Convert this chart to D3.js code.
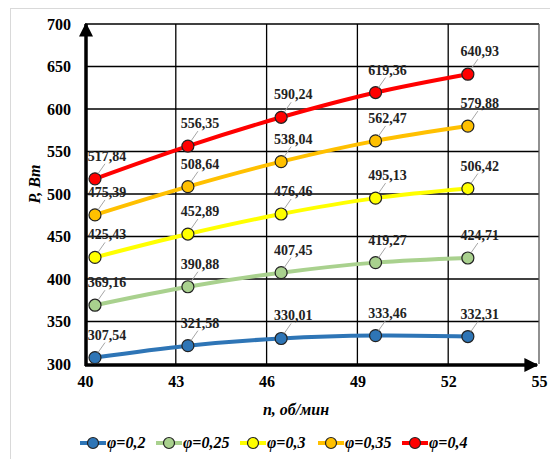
<!DOCTYPE html>
<html>
<head>
<meta charset="utf-8">
<script src="https://cdn.jsdelivr.net/npm/d3@7"></script>
<style>
  body { margin: 0; background: #fff; }
  svg text { font-family: "Liberation Serif", "DejaVu Serif", "Times New Roman", serif !important; }
</style>
</head>
<body>
<div id="chart"></div>
<script>
// data
var nValues = [40.33, 43.4, 46.48, 49.6, 52.65];
var seriesNames = ["φ=0,2", "φ=0,25", "φ=0,3", "φ=0,35", "φ=0,4"];
var p02 = [307.54, 321.58, 330.01, 333.46, 332.31];
var p025 = [369.16, 390.88, 407.45, 419.27, 424.71];
var p03 = [425.43, 452.89, 476.46, 495.13, 506.42];
var p035 = [475.39, 508.64, 538.04, 562.47, 579.88];
var p04 = [517.84, 556.35, 590.24, 619.36, 640.93];
var xTicks = [40, 43, 46, 49, 52, 55];
var yTicks = [300, 350, 400, 450, 500, 550, 600, 650, 700];

var colors = ["#2e75b6", "#a9d18e", "#ffff00", "#ffc000", "#ff0000"];
var allSeries = [p02, p025, p03, p035, p04];

var svgWidth = 550, svgHeight = 459;
var margin = { top: 24, right: 11, bottom: 95, left: 85 };
var width = svgWidth - margin.left - margin.right;
var height = svgHeight - margin.top - margin.bottom;

var svg = d3.select("#chart").append("svg")
  .attr("width", svgWidth)
  .attr("height", svgHeight)
  .attr("font-family", "Liberation Serif, serif");

// light outer frame
svg.append("rect")
  .attr("x", 10.5).attr("y", 8.5)
  .attr("width", 560).attr("height", 470)
  .attr("fill", "none")
  .attr("stroke", "#d9d9d9");

var defs = svg.append("defs");
defs.append("marker")
  .attr("id", "arrow")
  .attr("viewBox", "0 0 10 10")
  .attr("refX", 9).attr("refY", 5)
  .attr("markerWidth", 4).attr("markerHeight", 4)
  .attr("markerUnits", "strokeWidth")
  .attr("orient", "auto")
  .append("path")
  .attr("d", "M0,0 L10,5 L0,10 Z")
  .attr("fill", "#000");

var chartGroup = svg.append("g")
  .attr("transform", `translate(${margin.left}, ${margin.top})`);

var xScale = d3.scaleLinear().domain([40, 55]).range([0, width]);
var yScale = d3.scaleLinear().domain([300, 700]).range([height, 0]);

// grid
chartGroup.append("g").selectAll("line")
  .data(yTicks.slice(1))
  .enter().append("line")
  .attr("x1", 0).attr("x2", width)
  .attr("y1", d => yScale(d)).attr("y2", d => yScale(d))
  .attr("stroke", "#000").attr("stroke-width", 1.3);

chartGroup.append("g").selectAll("line")
  .data(xTicks.slice(1))
  .enter().append("line")
  .attr("x1", d => xScale(d)).attr("x2", d => xScale(d))
  .attr("y1", 0).attr("y2", height)
  .attr("stroke", d => d === 55 ? "#555" : "#000").attr("stroke-width", 1.3);

// axes with arrows
chartGroup.append("line")
  .attr("x1", 0).attr("y1", height + 1)
  .attr("x2", width - 2).attr("y2", height + 1)
  .attr("stroke", "#000").attr("stroke-width", 3.5)
  .attr("marker-end", "url(#arrow)");
chartGroup.append("line")
  .attr("x1", 1).attr("y1", height + 2)
  .attr("x2", 1).attr("y2", 0)
  .attr("stroke", "#000").attr("stroke-width", 3.5)
  .attr("marker-end", "url(#arrow)");

// tick labels
var xAxis = d3.axisBottom(xScale).tickValues(xTicks).tickSize(0).tickPadding(12);
var yAxis = d3.axisLeft(yScale).tickValues(yTicks).tickSize(0).tickPadding(14);

var gx = chartGroup.append("g").attr("transform", `translate(0, ${height})`).call(xAxis);
var gy = chartGroup.append("g").call(yAxis);
[gx, gy].forEach(function(g) {
  g.attr("font-family", null);
  g.select(".domain").remove();
  g.selectAll("text")
    .attr("font-size", "16px")
    .attr("font-weight", "bold")
    .attr("fill", "#000");
});

// lines
var line = d3.line()
  .x((d, i) => xScale(nValues[i]))
  .y(d => yScale(d))
  .curve(d3.curveCatmullRom.alpha(0.5));

allSeries.forEach(function(vals, si) {
  var g = chartGroup.append("g");
  g.append("path")
    .datum(vals)
    .attr("d", line)
    .attr("fill", "none")
    .attr("stroke", colors[si])
    .attr("stroke-width", 4);

  g.selectAll("circle")
    .data(vals)
    .enter().append("circle")
    .attr("cx", (d, i) => xScale(nValues[i]))
    .attr("cy", d => yScale(d))
    .attr("r", 6)
    .attr("fill", colors[si])
    .attr("stroke", "#222")
    .attr("stroke-width", 1.2);

  // leader lines
  g.selectAll("line.lead")
    .data(vals)
    .enter().append("line")
    .attr("class", "lead")
    .attr("x1", (d, i) => xScale(nValues[i]) + 3)
    .attr("y1", d => yScale(d) - 5)
    .attr("x2", (d, i) => xScale(nValues[i]) + 10)
    .attr("y2", d => yScale(d) - 15)
    .attr("stroke", "#a6a6a6")
    .attr("stroke-width", 1);

  g.selectAll("text")
    .data(vals)
    .enter().append("text")
    .attr("x", (d, i) => xScale(nValues[i]) + 12)
    .attr("y", d => yScale(d) - 18)
    .attr("text-anchor", "middle")
    .attr("font-size", "14px")
    .attr("font-weight", "bold")
    .attr("fill", "#222")
    .text(d => d.toFixed(2).replace(".", ","));
});

// axis titles
svg.append("text")
  .attr("transform", `translate(40, 184) rotate(-90)`)
  .attr("text-anchor", "middle")
  .attr("font-size", "16px")
  .attr("font-weight", "bold")
  .attr("font-style", "italic")
  .text("P, Вт");

svg.append("text")
  .attr("x", 296).attr("y", 415)
  .attr("text-anchor", "middle")
  .attr("font-size", "16px")
  .attr("font-weight", "bold")
  .attr("font-style", "italic")
  .text("n, об/мин");

// legend
var legendX = [80, 156, 240, 318, 402];
var legend = svg.append("g");
seriesNames.forEach(function(name, i) {
  var lg = legend.append("g").attr("transform", `translate(${legendX[i]}, 443)`);
  lg.append("line")
    .attr("x1", 0).attr("x2", 26)
    .attr("stroke", colors[i]).attr("stroke-width", 4);
  lg.append("circle")
    .attr("cx", 13).attr("r", 5.5)
    .attr("fill", colors[i]).attr("stroke", "#222").attr("stroke-width", 1.2);
  lg.append("text")
    .attr("x", 27).attr("y", 5)
    .attr("font-size", "16px")
    .attr("font-weight", "bold")
    .attr("font-style", "italic")
    .text(name);
});
</script>
</body>
</html>
